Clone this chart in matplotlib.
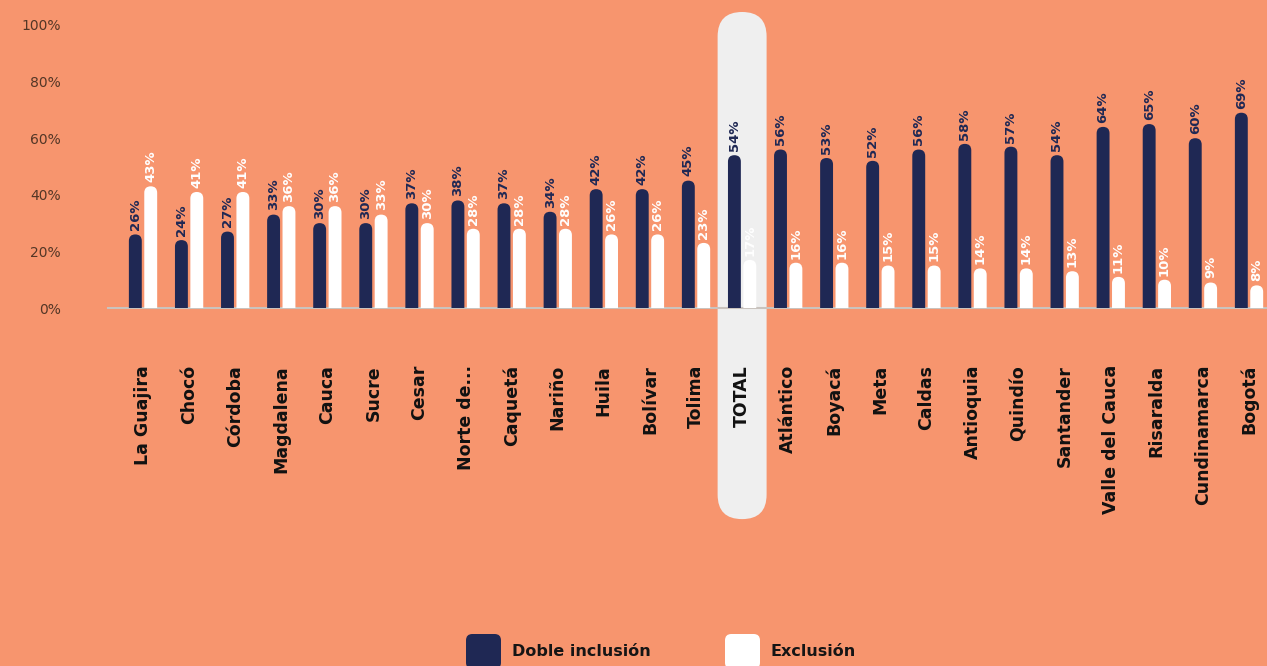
import matplotlib.pyplot as plt
from matplotlib.patches import FancyBboxPatch

# data
departments = ["La Guajira", "Chocó", "Córdoba", "Magdalena", "Cauca", "Sucre", "Cesar",
               "Norte de...", "Caquetá", "Nariño", "Huila", "Bolívar", "Tolima", "TOTAL",
               "Atlántico", "Boyacá", "Meta", "Caldas", "Antioquia", "Quindío", "Santander",
               "Valle del Cauca", "Risaralda", "Cundinamarca", "Bogotá"]
doble_inclusion = [26, 24, 27, 33, 30, 30, 37, 38, 37, 34, 42, 42, 45, 54,
                   56, 53, 52, 56, 58, 57, 54, 64, 65, 60, 69]
exclusion = [43, 41, 41, 36, 36, 33, 30, 28, 28, 28, 26, 26, 23, 17,
             16, 16, 15, 15, 14, 14, 13, 11, 10, 9, 8]
yticks = [0, 20, 40, 60, 80, 100]
highlight = "TOTAL"

bg = "#F7956E"
navy = "#1F2854"
white = "#FFFFFF"

W, H = 1267, 666
fig = plt.figure(figsize=(W / 100, H / 100), dpi=100, facecolor=bg)
ax = fig.add_axes([108 / W, 1 - 308 / H, 1 - 108 / W, 283 / H])
ax.patch.set_visible(False)

xlim = (-0.76, 24.39)
ylim = (0, 100)
ax.set_xlim(*xlim)
ax.set_ylim(*ylim)

# y-units per x-unit for one pixel, to keep the round caps circular
ax_w = (1 - 108 / W) * W
ax_h = 283
asp = ((ylim[1] - ylim[0]) / ax_h) / ((xlim[1] - xlim[0]) / ax_w)

# highlight box behind the TOTAL group
hi = departments.index(highlight)
hw = 1.063
ax.add_patch(FancyBboxPatch((hi - hw / 2, -74.6), hw, 179.2,
                            boxstyle=f"round,pad=0,rounding_size={hw / 2}",
                            mutation_aspect=asp, fc="#EFEFEF", ec="none",
                            clip_on=False, zorder=0))

ax.axhline(0, color="#C9C3BE", lw=1.5, zorder=1, clip_on=False)

bw = 0.28
off = 0.167
for i in range(len(departments)):
    for val, dx, col in [(doble_inclusion[i], -off, navy), (exclusion[i], off, white)]:
        r = bw / 2 * asp
        ax.add_patch(FancyBboxPatch((i + dx - bw / 2, -r), bw, val + r,
                                    boxstyle=f"round,pad=0,rounding_size={bw / 2}",
                                    mutation_aspect=asp, fc=col, ec="none", zorder=2))
        ax.annotate(f"{val}%", (i + dx, val), xytext=(0, 3), textcoords="offset points",
                    rotation=90, ha="center", va="bottom", color=col,
                    fontsize=9.5, fontweight="bold", zorder=3)

ax.set_xticks(range(len(departments)))
ax.set_xticklabels(departments, rotation=90, fontsize=12.5, fontweight="bold",
                   color="#111111", ha="center", va="top")
ax.tick_params(axis="x", length=0, pad=41)
ax.set_yticks(yticks)
ax.set_yticklabels([f"{t}%" for t in yticks], fontsize=10, color="#533626")
ax.tick_params(axis="y", length=0, pad=34)
for s in ax.spines.values():
    s.set_visible(False)

# legend
for x0, col, txt in [(466, navy, "Doble inclusión"), (725, white, "Exclusión")]:
    fig.patches.append(FancyBboxPatch((x0 / W, 1 - 669 / H), 35 / W, 35 / H,
                                      boxstyle="round,pad=0,rounding_size=0.005",
                                      mutation_aspect=W / H, fc=col, ec="none",
                                      transform=fig.transFigure, figure=fig))
    fig.text((x0 + 46) / W, 1 - 652 / H, txt, fontsize=11.5, fontweight="bold",
             color="#151515", va="center", ha="left")

fig.savefig("out.png", dpi=100, facecolor=bg)
